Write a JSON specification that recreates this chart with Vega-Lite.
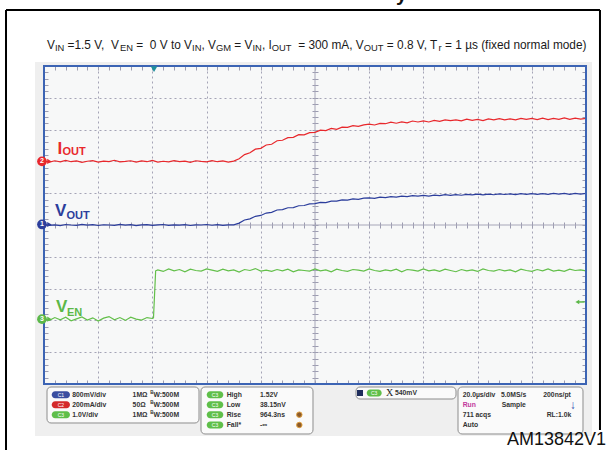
{
"$schema": "https://vega.github.io/schema/vega-lite/v6.json",
"width": 542, "height": 318,
"autosize": {"type": "none"},
"padding": {"left": 44, "top": 66, "right": 21, "bottom": 66},
"background": "white",
"config": {"view": {"stroke": null, "fill": "#f7f8f8"}, "font": "Liberation Sans"},
"datasets": {
"one": [{}],
"iout": [{"t":-40,"v":2},{"t":-38,"v":-5},{"t":-36,"v":4},{"t":-34,"v":-3},{"t":-32,"v":6},{"t":-30,"v":-2},{"t":-28,"v":3},{"t":-26,"v":-6},{"t":-24,"v":1},{"t":-22,"v":5},{"t":-20,"v":-4},{"t":-18,"v":2},{"t":-16,"v":-1},{"t":-14,"v":7},{"t":-12,"v":-3},{"t":-10,"v":0},{"t":-8,"v":4},{"t":-6,"v":-5},{"t":-4,"v":3},{"t":-2,"v":-2},{"t":0,"v":6},{"t":2,"v":-4},{"t":4,"v":1},{"t":6,"v":-3},{"t":8,"v":5},{"t":10,"v":-1},{"t":12,"v":2},{"t":14,"v":-6},{"t":16,"v":4},{"t":18,"v":0},{"t":20,"v":-3},{"t":22,"v":5},{"t":24,"v":-2},{"t":26,"v":3},{"t":28,"v":-4},{"t":30,"v":2},{"t":32,"v":17},{"t":34,"v":43},{"t":36,"v":54},{"t":38,"v":77},{"t":40,"v":82},{"t":42,"v":103},{"t":44,"v":108},{"t":46,"v":130},{"t":48,"v":133},{"t":50,"v":149},{"t":52,"v":151},{"t":54,"v":168},{"t":56,"v":167},{"t":58,"v":181},{"t":60,"v":183},{"t":62,"v":197},{"t":64,"v":194},{"t":66,"v":207},{"t":68,"v":202},{"t":70,"v":215},{"t":72,"v":214},{"t":74,"v":225},{"t":76,"v":220},{"t":78,"v":230},{"t":80,"v":235},{"t":82,"v":229},{"t":84,"v":239},{"t":86,"v":237},{"t":88,"v":247},{"t":90,"v":240},{"t":92,"v":249},{"t":94,"v":243},{"t":96,"v":254},{"t":98,"v":248},{"t":100,"v":255},{"t":102,"v":248},{"t":104,"v":258},{"t":106,"v":252},{"t":108,"v":261},{"t":110,"v":256},{"t":112,"v":261},{"t":114,"v":255},{"t":116,"v":266},{"t":118,"v":258},{"t":120,"v":264},{"t":122,"v":257},{"t":124,"v":267},{"t":126,"v":261},{"t":128,"v":269},{"t":130,"v":261},{"t":132,"v":268},{"t":134,"v":261},{"t":136,"v":270},{"t":138,"v":264},{"t":140,"v":270},{"t":142,"v":263},{"t":144,"v":272},{"t":146,"v":263},{"t":148,"v":270},{"t":150,"v":265},{"t":152,"v":274},{"t":154,"v":265},{"t":156,"v":272},{"t":158,"v":266},{"t":160,"v":271}],
"vout": [{"t":-40,"v":0.01},{"t":-38,"v":-0.01},{"t":-36,"v":0.005},{"t":-34,"v":-0.015},{"t":-32,"v":0.012},{"t":-30,"v":0},{"t":-28,"v":-0.008},{"t":-26,"v":0.015},{"t":-24,"v":-0.005},{"t":-22,"v":0.01},{"t":-20,"v":-0.012},{"t":-18,"v":0.006},{"t":-16,"v":0},{"t":-14,"v":-0.01},{"t":-12,"v":0.014},{"t":-10,"v":-0.004},{"t":-8,"v":0.008},{"t":-6,"v":-0.014},{"t":-4,"v":0.003},{"t":-2,"v":0.011},{"t":0,"v":-0.007},{"t":2,"v":0.002},{"t":4,"v":0.013},{"t":6,"v":-0.011},{"t":8,"v":0.005},{"t":10,"v":-0.002},{"t":12,"v":0.009},{"t":14,"v":-0.013},{"t":16,"v":0.004},{"t":18,"v":0},{"t":20,"v":0.012},{"t":22,"v":-0.006},{"t":24,"v":0.007},{"t":26,"v":-0.009},{"t":28,"v":0.003},{"t":30,"v":0.005},{"t":32,"v":0.048},{"t":34,"v":0.125},{"t":36,"v":0.155},{"t":38,"v":0.219},{"t":40,"v":0.24},{"t":42,"v":0.3},{"t":44,"v":0.319},{"t":46,"v":0.377},{"t":48,"v":0.389},{"t":50,"v":0.434},{"t":52,"v":0.439},{"t":54,"v":0.484},{"t":56,"v":0.49},{"t":58,"v":0.533},{"t":60,"v":0.536},{"t":62,"v":0.569},{"t":64,"v":0.565},{"t":66,"v":0.602},{"t":68,"v":0.599},{"t":70,"v":0.632},{"t":72,"v":0.627},{"t":74,"v":0.655},{"t":76,"v":0.645},{"t":78,"v":0.674},{"t":80,"v":0.681},{"t":82,"v":0.671},{"t":84,"v":0.701},{"t":86,"v":0.691},{"t":88,"v":0.716},{"t":90,"v":0.702},{"t":92,"v":0.727},{"t":94,"v":0.713},{"t":96,"v":0.739},{"t":98,"v":0.726},{"t":100,"v":0.745},{"t":102,"v":0.729},{"t":104,"v":0.752},{"t":106,"v":0.738},{"t":108,"v":0.762},{"t":110,"v":0.747},{"t":112,"v":0.766},{"t":114,"v":0.748},{"t":116,"v":0.77},{"t":118,"v":0.757},{"t":120,"v":0.776},{"t":122,"v":0.757},{"t":124,"v":0.777},{"t":126,"v":0.761},{"t":128,"v":0.784},{"t":130,"v":0.768},{"t":132,"v":0.784},{"t":134,"v":0.765},{"t":136,"v":0.787},{"t":138,"v":0.771},{"t":140,"v":0.79},{"t":142,"v":0.771},{"t":144,"v":0.791},{"t":146,"v":0.771},{"t":148,"v":0.794},{"t":150,"v":0.777},{"t":152,"v":0.793},{"t":154,"v":0.773},{"t":156,"v":0.794},{"t":158,"v":0.778},{"t":160,"v":0.794}],
"ven": [{"t":-40,"v":0.02},{"t":-38,"v":-0.04},{"t":-36,"v":0.05},{"t":-34,"v":-0.02},{"t":-32,"v":0.06},{"t":-30,"v":-0.05},{"t":-28,"v":0.01},{"t":-26,"v":0.07},{"t":-24,"v":-0.03},{"t":-22,"v":0.04},{"t":-20,"v":-0.06},{"t":-18,"v":0.03},{"t":-16,"v":0.08},{"t":-14,"v":-0.02},{"t":-12,"v":0.05},{"t":-10,"v":-0.04},{"t":-8,"v":0.06},{"t":-6,"v":0},{"t":-4,"v":-0.03},{"t":-2,"v":0.05},{"t":0,"v":0.02},{"t":0.4,"v":0.04},{"t":1.2,"v":1.52},{"t":2,"v":1.55},{"t":4,"v":1.5},{"t":6,"v":1.58},{"t":8,"v":1.52},{"t":10,"v":1.56},{"t":12,"v":1.49},{"t":14,"v":1.57},{"t":16,"v":1.53},{"t":18,"v":1.51},{"t":20,"v":1.58},{"t":22,"v":1.54},{"t":24,"v":1.5},{"t":26,"v":1.57},{"t":28,"v":1.52},{"t":30,"v":1.55},{"t":32,"v":1.48},{"t":34,"v":1.56},{"t":36,"v":1.53},{"t":38,"v":1.59},{"t":40,"v":1.51},{"t":42,"v":1.54},{"t":44,"v":1.5},{"t":46,"v":1.56},{"t":48,"v":1.52},{"t":50,"v":1.57},{"t":52,"v":1.49},{"t":54,"v":1.55},{"t":56,"v":1.53},{"t":58,"v":1.51},{"t":60,"v":1.58},{"t":62,"v":1.52},{"t":64,"v":1.55},{"t":66,"v":1.49},{"t":68,"v":1.57},{"t":70,"v":1.53},{"t":72,"v":1.5},{"t":74,"v":1.56},{"t":76,"v":1.54},{"t":78,"v":1.51},{"t":80,"v":1.58},{"t":82,"v":1.53},{"t":84,"v":1.5},{"t":86,"v":1.55},{"t":88,"v":1.52},{"t":90,"v":1.57},{"t":92,"v":1.49},{"t":94,"v":1.56},{"t":96,"v":1.54},{"t":98,"v":1.51},{"t":100,"v":1.58},{"t":102,"v":1.52},{"t":104,"v":1.55},{"t":106,"v":1.5},{"t":108,"v":1.57},{"t":110,"v":1.53},{"t":112,"v":1.49},{"t":114,"v":1.56},{"t":116,"v":1.52},{"t":118,"v":1.55},{"t":120,"v":1.5},{"t":122,"v":1.58},{"t":124,"v":1.53},{"t":126,"v":1.51},{"t":128,"v":1.56},{"t":130,"v":1.52},{"t":132,"v":1.55},{"t":134,"v":1.49},{"t":136,"v":1.57},{"t":138,"v":1.53},{"t":140,"v":1.5},{"t":142,"v":1.56},{"t":144,"v":1.52},{"t":146,"v":1.58},{"t":148,"v":1.51},{"t":150,"v":1.54},{"t":152,"v":1.5},{"t":154,"v":1.57},{"t":156,"v":1.53},{"t":158,"v":1.55},{"t":160,"v":1.52}]
},
"layer": [
{"data": {"values": [{"x":-43.32,"x2":-40,"y":10.126,"y2":-1.635},{"x":160,"x2":162.2,"y":10.126,"y2":-1.635},{"x":-43.32,"x2":162.2,"y":10.126,"y2":10},{"x":-43.32,"x2":162.2,"y":0,"y2":-1.635}]},
 "mark": {"type": "rect", "color": "#efefef"},
 "encoding": {"x": {"field": "x", "type": "quantitative", "scale": {"domain": [-40,160], "nice": false, "zero": false}, "axis": null}, "x2": {"field": "x2"},
  "y": {"field": "y", "type": "quantitative", "scale": {"domain": [0,10], "nice": false, "zero": false}, "axis": null}, "y2": {"field": "y2"}}},
{"data": {"name": "one"},
 "mark": {"type": "rule", "color": "#a6a6b8", "strokeWidth": 1},
 "encoding": {
  "x": {"datum": 60, "type": "quantitative", "scale": {"domain": [-40,160], "nice": false, "zero": false}, "axis": {"orient": "bottom", "grid": true, "gridDash": [2,3], "gridColor": "#a4a4b6", "gridWidth": 1, "values": [-20,0,20,40,80,100,120,140], "labels": false, "ticks": false, "domain": false, "title": null, "zindex": 0}},
  "y": {"datum": 0, "type": "quantitative", "scale": {"domain": [0,10], "nice": false, "zero": false}, "axis": {"orient": "left", "grid": true, "gridDash": [2,3], "gridColor": "#a4a4b6", "gridWidth": 1, "values": [1,2,3,4,6,7,8,9], "labels": false, "ticks": false, "domain": false, "title": null, "zindex": 0}},
  "y2": {"datum": 10}}},
{"data": {"name": "one"},
 "mark": {"type": "rule", "color": "#a6a6b8", "strokeWidth": 1},
 "encoding": {
  "x": {"datum": -40, "type": "quantitative", "scale": {"domain": [-40,160], "nice": false, "zero": false}, "axis": {"orient": "bottom", "offset": -162, "values": [-40,-36,-32,-28,-24,-20,-16,-12,-8,-4,0,4,8,12,16,20,24,28,32,36,40,44,48,52,56,60,64,68,72,76,80,84,88,92,96,100,104,108,112,116,120,124,128,132,136,140,144,148,152,156,160], "ticks": true, "tickSize": 6, "tickColor": "#9c9cb0", "tickWidth": 1, "labels": false, "domain": false, "grid": false, "title": null, "zindex": 0}},
  "x2": {"datum": 160},
  "y": {"datum": 5, "type": "quantitative", "scale": {"domain": [0,10], "nice": false, "zero": false}, "axis": {"orient": "left", "offset": -274, "values": [0,0.2,0.4,0.6,0.8,1,1.2,1.4,1.6,1.8,2,2.2,2.4,2.6,2.8,3,3.2,3.4,3.6,3.8,4,4.2,4.4,4.6,4.8,5,5.2,5.4,5.6,5.8,6,6.2,6.4,6.6,6.8,7,7.2,7.4,7.6,7.8,8,8.2,8.4,8.6,8.8,9,9.2,9.4,9.6,9.8,10], "ticks": true, "tickSize": 6, "tickColor": "#9c9cb0", "tickWidth": 1, "labels": false, "domain": false, "grid": false, "title": null, "zindex": 0}}}},
{"data": {"name": "iout"},
 "mark": {"type": "line", "color": "#e8282c", "strokeWidth": 1.2},
 "encoding": {"x": {"field": "t", "type": "quantitative", "scale": {"domain": [-40,160], "nice": false, "zero": false}, "axis": null},
  "y": {"field": "v", "type": "quantitative", "scale": {"domain": [-1400,600], "nice": false, "zero": false}, "axis": null}}},
{"data": {"name": "vout"},
 "mark": {"type": "line", "color": "#2c3e9c", "strokeWidth": 1.2},
 "encoding": {"x": {"field": "t", "type": "quantitative", "scale": {"domain": [-40,160], "nice": false, "zero": false}, "axis": null},
  "y": {"field": "v", "type": "quantitative", "scale": {"domain": [-4,4], "nice": false, "zero": false}, "axis": null}}},
{"data": {"name": "ven"},
 "mark": {"type": "line", "color": "#63bf4a", "strokeWidth": 1.2},
 "encoding": {"x": {"field": "t", "type": "quantitative", "scale": {"domain": [-40,160], "nice": false, "zero": false}, "axis": null},
  "y": {"field": "v", "type": "quantitative", "scale": {"domain": [-2.04,7.96], "nice": false, "zero": false}, "axis": null}}},
{"data": {"name": "one"},
 "mark": {"type": "rect", "filled": false, "color": "#3c64b4", "stroke": "#3c64b4", "strokeWidth": 2},
 "encoding": {
  "x": {"datum": -40, "type": "quantitative", "scale": {"domain": [-40,160], "nice": false, "zero": false}, "axis": {"orient": "top", "offset": -4, "values": [-40,-36,-32,-28,-24,-20,-16,-12,-8,-4,0,4,8,12,16,20,24,28,32,36,40,44,48,52,56,60,64,68,72,76,80,84,88,92,96,100,104,108,112,116,120,124,128,132,136,140,144,148,152,156,160], "ticks": true, "tickSize": 4, "tickColor": "#9c9cb0", "tickWidth": 1, "labels": false, "domain": false, "grid": false, "title": null, "zindex": 0}},
  "x2": {"datum": 160},
  "y": {"datum": 0, "type": "quantitative", "scale": {"domain": [0,10], "nice": false, "zero": false}, "axis": {"orient": "left", "offset": -4, "values": [0,0.2,0.4,0.6,0.8,1,1.2,1.4,1.6,1.8,2,2.2,2.4,2.6,2.8,3,3.2,3.4,3.6,3.8,4,4.2,4.4,4.6,4.8,5,5.2,5.4,5.6,5.8,6,6.2,6.4,6.6,6.8,7,7.2,7.4,7.6,7.8,8,8.2,8.4,8.6,8.8,9,9.2,9.4,9.6,9.8,10], "ticks": true, "tickSize": 4, "tickColor": "#9c9cb0", "tickWidth": 1, "labels": false, "domain": false, "grid": false, "title": null, "zindex": 0}},
  "y2": {"datum": 10}}},
{"data": {"name": "one"},
 "mark": {"type": "point", "shape": "triangle-down", "filled": true, "color": "#1f8f9c", "size": 45, "opacity": 1},
 "encoding": {
  "x": {"datum": 0.6, "type": "quantitative", "scale": {"domain": [-40,160], "nice": false, "zero": false}, "axis": {"orient": "bottom", "offset": -4, "values": [-40,-36,-32,-28,-24,-20,-16,-12,-8,-4,0,4,8,12,16,20,24,28,32,36,40,44,48,52,56,60,64,68,72,76,80,84,88,92,96,100,104,108,112,116,120,124,128,132,136,140,144,148,152,156,160], "ticks": true, "tickSize": 4, "tickColor": "#9c9cb0", "tickWidth": 1, "labels": false, "domain": false, "grid": false, "title": null, "zindex": 0}},
  "y": {"datum": 9.9, "type": "quantitative", "scale": {"domain": [0,10], "nice": false, "zero": false}, "axis": {"orient": "right", "offset": -4, "values": [0,0.2,0.4,0.6,0.8,1,1.2,1.4,1.6,1.8,2,2.2,2.4,2.6,2.8,3,3.2,3.4,3.6,3.8,4,4.2,4.4,4.6,4.8,5,5.2,5.4,5.6,5.8,6,6.2,6.4,6.6,6.8,7,7.2,7.4,7.6,7.8,8,8.2,8.4,8.6,8.8,9,9.2,9.4,9.6,9.8,10], "ticks": true, "tickSize": 4, "tickColor": "#9c9cb0", "tickWidth": 1, "labels": false, "domain": false, "grid": false, "title": null, "zindex": 0}}}},
{"data": {"name": "one"},
 "mark": {"type": "rule", "color": "#5cb848", "strokeWidth": 1.5},
 "encoding": {"x": {"datum": 157, "type": "quantitative", "scale": {"domain": [-40,160], "nice": false, "zero": false}, "axis": null}, "x2": {"datum": 159.5},
  "y": {"datum": 2.58, "type": "quantitative", "scale": {"domain": [0,10], "nice": false, "zero": false}, "axis": null}}},
{"data": {"name": "one"},
 "mark": {"type": "point", "shape": "triangle-left", "filled": true, "color": "#5cb848", "size": 20, "opacity": 1},
 "encoding": {"x": {"datum": 156.8, "type": "quantitative", "scale": {"domain": [-40,160], "nice": false, "zero": false}, "axis": null},
  "y": {"datum": 2.58, "type": "quantitative", "scale": {"domain": [0,10], "nice": false, "zero": false}, "axis": null}}},
{"data": {"values": [{"ch":"1","y":5.016},{"ch":"2","y":7.0},{"ch":"3","y":2.04}]},
 "mark": {"type": "point", "shape": "triangle-right", "filled": true, "size": 26, "opacity": 1},
 "encoding": {"x": {"datum": -38.0, "type": "quantitative", "scale": {"domain": [-40,160], "nice": false, "zero": false}, "axis": null},
  "y": {"field": "y", "type": "quantitative", "scale": {"domain": [0,10], "nice": false, "zero": false}, "axis": null},
  "color": {"field": "ch", "type": "nominal", "scale": {"domain": ["1","2","3"], "range": ["#2c3e9c","#e8282c","#5cb848"]}, "legend": null}}},
{"data": {"values": [{"ch":"1","y":5.016},{"ch":"2","y":7.0},{"ch":"3","y":2.04}]},
 "mark": {"type": "point", "shape": "circle", "filled": true, "size": 95, "opacity": 1},
 "encoding": {"x": {"datum": -40.74, "type": "quantitative", "scale": {"domain": [-40,160], "nice": false, "zero": false}, "axis": null},
  "y": {"field": "y", "type": "quantitative", "scale": {"domain": [0,10], "nice": false, "zero": false}, "axis": null},
  "color": {"field": "ch", "type": "nominal", "scale": {"domain": ["1","2","3"], "range": ["#2c3e9c","#e8282c","#5cb848"]}, "legend": null}}},
{"data": {"values": [{"ch":"1","y":5.016},{"ch":"2","y":7.0},{"ch":"3","y":2.04}]},
 "mark": {"type": "text", "color": "white", "fontSize": 7, "fontWeight": "bold", "align": "center", "baseline": "middle"},
 "encoding": {"x": {"datum": -40.74, "type": "quantitative", "scale": {"domain": [-40,160], "nice": false, "zero": false}, "axis": null},
  "y": {"field": "y", "type": "quantitative", "scale": {"domain": [0,10], "nice": false, "zero": false}, "axis": null},
  "text": {"field": "ch"}}},
{"data": {"values": [{"x":-35.02,"y":7.248,"text":"I","ch":"2"},{"x":-35.94,"y":5.283,"text":"V","ch":"1"},{"x":-35.57,"y":2.264,"text":"V","ch":"3"}]},
 "mark": {"type": "text", "fontSize": 17, "fontWeight": "bold", "align": "left", "baseline": "alphabetic"},
 "encoding": {"x": {"field": "x", "type": "quantitative", "scale": {"domain": [-40,160], "nice": false, "zero": false}, "axis": null},
  "y": {"field": "y", "type": "quantitative", "scale": {"domain": [0,10], "nice": false, "zero": false}, "axis": null},
  "text": {"field": "text"},
  "color": {"field": "ch", "type": "nominal", "scale": {"domain": ["1","2","3"], "range": ["#2c3e9c","#e8282c","#5cb848"]}, "legend": null}}},
{"data": {"values": [{"x":-33.17,"y":7.2,"text":"OUT","ch":"2"},{"x":-31.7,"y":5.189,"text":"OUT","ch":"1"},{"x":-31.51,"y":2.154,"text":"EN","ch":"3"}]},
 "mark": {"type": "text", "fontSize": 11, "fontWeight": "bold", "align": "left", "baseline": "alphabetic"},
 "encoding": {"x": {"field": "x", "type": "quantitative", "scale": {"domain": [-40,160], "nice": false, "zero": false}, "axis": null},
  "y": {"field": "y", "type": "quantitative", "scale": {"domain": [0,10], "nice": false, "zero": false}, "axis": null},
  "text": {"field": "text"},
  "color": {"field": "ch", "type": "nominal", "scale": {"domain": ["1","2","3"], "range": ["#2c3e9c","#e8282c","#5cb848"]}, "legend": null}}},
{"data": {"values": [{"x":-38.89,"text":"V"},{"x":-31.3,"text":"=1.5 V,\u00a0\u00a0V"},{"x":-5.93,"text":"=\u00a0\u00a00 V to V"},{"x":18.09,"text":", V"},{"x":30.24,"text":"= V"},{"x":40.4,"text":", I"},{"x":53.79,"text":"= 300 mA, V"},{"x":86.52,"text":"= 0.8 V, T"},{"x":107.99,"text":"= 1 µs (fixed normal mode)"}]},
 "mark": {"type": "text", "fontSize": 11.85, "color": "#1a1a1a", "align": "left", "baseline": "alphabetic"},
 "encoding": {"x": {"field": "x", "type": "quantitative", "scale": {"domain": [-40,160], "nice": false, "zero": false}, "axis": null},
  "y": {"datum": 10.55, "type": "quantitative", "scale": {"domain": [0,10], "nice": false, "zero": false}, "axis": null},
  "text": {"field": "text"}}},
{"data": {"values": [{"x":-35.98,"text":"IN"},{"x":-11.96,"text":"EN"},{"x":14.63,"text":"IN"},{"x":23.44,"text":"GM"},{"x":36.93,"text":"IN"},{"x":44.04,"text":"OUT"},{"x":77.99,"text":"OUT"},{"x":105.61,"text":"r"}]},
 "mark": {"type": "text", "fontSize": 9.4, "color": "#1a1a1a", "align": "left", "baseline": "alphabetic"},
 "encoding": {"x": {"field": "x", "type": "quantitative", "scale": {"domain": [-40,160], "nice": false, "zero": false}, "axis": null},
  "y": {"datum": 10.456, "type": "quantitative", "scale": {"domain": [0,10], "nice": false, "zero": false}, "axis": null},
  "text": {"field": "text"}}},
{"data": {"values": [{"x":-38.89,"x2":17.2,"y":-0.094,"y2":-1.226},{"x":17.93,"x2":59.26,"y":-0.094,"y2":-1.572},{"x":75.13,"x2":112.03,"y":-0.094,"y2":-0.472},{"x":112.77,"x2":158.89,"y":-0.094,"y2":-1.572}]},
 "mark": {"type": "rect", "fill": "#fafafa", "stroke": "#8c8c8c", "strokeWidth": 1, "cornerRadius": 4},
 "encoding": {"x": {"field": "x", "type": "quantitative", "scale": {"domain": [-40,160], "nice": false, "zero": false}, "axis": null}, "x2": {"field": "x2"},
  "y": {"field": "y", "type": "quantitative", "scale": {"domain": [0,10], "nice": false, "zero": false}, "axis": null}, "y2": {"field": "y2"}}},
{"data": {"values": [
  {"x":-37.16,"x2":-30.41,"y":-0.2265,"y2":-0.4465,"ch":"1"},{"x":-37.16,"x2":-30.41,"y":-0.541,"y2":-0.761,"ch":"2"},{"x":-37.16,"x2":-30.41,"y":-0.855,"y2":-1.075,"ch":"3"},
  {"x":20.04,"x2":26.17,"y":-0.2265,"y2":-0.4465,"ch":"3"},{"x":20.04,"x2":26.17,"y":-0.541,"y2":-0.761,"ch":"3"},{"x":20.04,"x2":26.17,"y":-0.855,"y2":-1.075,"ch":"3"},{"x":20.04,"x2":26.17,"y":-1.179,"y2":-1.399,"ch":"3"},
  {"x":79.08,"x2":84.62,"y":-0.173,"y2":-0.393,"ch":"3"}]},
 "mark": {"type": "rect", "cornerRadius": 3.5},
 "encoding": {"x": {"field": "x", "type": "quantitative", "scale": {"domain": [-40,160], "nice": false, "zero": false}, "axis": null}, "x2": {"field": "x2"},
  "y": {"field": "y", "type": "quantitative", "scale": {"domain": [0,10], "nice": false, "zero": false}, "axis": null}, "y2": {"field": "y2"},
  "color": {"field": "ch", "type": "nominal", "scale": {"domain": ["1","2","3"], "range": ["#3b4ea0","#d42a2a","#5fbf4a"]}, "legend": null}}},
{"data": {"values": [
  {"x":-33.79,"y":-0.3365,"text":"C1"},{"x":-33.79,"y":-0.651,"text":"C2"},{"x":-33.79,"y":-0.965,"text":"C3"},
  {"x":23.1,"y":-0.3365,"text":"C3"},{"x":23.1,"y":-0.651,"text":"C3"},{"x":23.1,"y":-0.965,"text":"C3"},{"x":23.1,"y":-1.289,"text":"C3"},
  {"x":81.85,"y":-0.283,"text":"C3"}]},
 "mark": {"type": "text", "fontSize": 5, "color": "white", "align": "center", "baseline": "middle"},
 "encoding": {"x": {"field": "x", "type": "quantitative", "scale": {"domain": [-40,160], "nice": false, "zero": false}, "axis": null},
  "y": {"field": "y", "type": "quantitative", "scale": {"domain": [0,10], "nice": false, "zero": false}, "axis": null},
  "text": {"field": "text"}}},
{"data": {"values": [
  {"x":-29.56,"y":-0.3365,"text":"800mV/div"},{"x":-7.3,"y":-0.3365,"text":"1MΩ"},{"x":0.4,"y":-0.3365,"text":"W:500M"},
  {"x":-29.56,"y":-0.651,"text":"200mA/div"},{"x":-7.3,"y":-0.651,"text":"50Ω"},{"x":0.4,"y":-0.651,"text":"W:500M"},
  {"x":-29.56,"y":-0.965,"text":"1.0V/div"},{"x":-7.3,"y":-0.965,"text":"1MΩ"},{"x":0.4,"y":-0.965,"text":"W:500M"},
  {"x":27.42,"y":-0.3365,"text":"High"},{"x":39.7,"y":-0.3365,"text":"1.52V"},
  {"x":27.42,"y":-0.651,"text":"Low"},{"x":39.7,"y":-0.651,"text":"38.15nV"},
  {"x":27.42,"y":-0.965,"text":"Rise"},{"x":39.7,"y":-0.965,"text":"964.3ns"},
  {"x":27.42,"y":-1.289,"text":"Fall*"},{"x":39.7,"y":-1.289,"text":"-∞"},
  {"x":89.52,"y":-0.283,"text":"540mV"},
  {"x":114.5,"y":-0.3365,"text":"20.0µs/div"},{"x":128.6,"y":-0.3365,"text":"5.0MS/s"},{"x":144.24,"y":-0.3365,"text":"200ns/pt"},
  {"x":128.89,"y":-0.651,"text":"Sample"},
  {"x":114.5,"y":-0.965,"text":"711 acqs"},{"x":145.5,"y":-0.965,"text":"RL:1.0k"},
  {"x":114.5,"y":-1.289,"text":"Auto"}]},
 "mark": {"type": "text", "fontSize": 6.8, "fontWeight": "bold", "color": "#333333", "align": "left", "baseline": "middle"},
 "encoding": {"x": {"field": "x", "type": "quantitative", "scale": {"domain": [-40,160], "nice": false, "zero": false}, "axis": null},
  "y": {"field": "y", "type": "quantitative", "scale": {"domain": [0,10], "nice": false, "zero": false}, "axis": null},
  "text": {"field": "text"}}},
{"data": {"values": [{"y":-0.29},{"y":-0.604},{"y":-0.918}]},
 "mark": {"type": "text", "fontSize": 4.5, "fontWeight": "bold", "color": "#333333", "align": "left", "baseline": "middle", "text": "B"},
 "encoding": {"x": {"datum": -0.8, "type": "quantitative", "scale": {"domain": [-40,160], "nice": false, "zero": false}, "axis": null},
  "y": {"field": "y", "type": "quantitative", "scale": {"domain": [0,10], "nice": false, "zero": false}, "axis": null}}},
{"data": {"name": "one"},
 "mark": {"type": "text", "fontSize": 6.8, "fontWeight": "bold", "color": "#c2389c", "align": "left", "baseline": "middle", "text": "Run"},
 "encoding": {"x": {"datum": 114.5, "type": "quantitative", "scale": {"domain": [-40,160], "nice": false, "zero": false}, "axis": null},
  "y": {"datum": -0.651, "type": "quantitative", "scale": {"domain": [0,10], "nice": false, "zero": false}, "axis": null}}},
{"data": {"name": "one"},
 "mark": {"type": "text", "fontSize": 12, "fontWeight": "bold", "color": "#2f4fb0", "align": "center", "baseline": "middle", "text": "↓"},
 "encoding": {"x": {"datum": 155.09, "type": "quantitative", "scale": {"domain": [-40,160], "nice": false, "zero": false}, "axis": null},
  "y": {"datum": -0.651, "type": "quantitative", "scale": {"domain": [0,10], "nice": false, "zero": false}, "axis": null}}},
{"data": {"name": "one"},
 "mark": {"type": "text", "fontSize": 10, "font": "Liberation Serif", "color": "#222222", "align": "left", "baseline": "middle", "text": "X"},
 "encoding": {"x": {"datum": 86.2, "type": "quantitative", "scale": {"domain": [-40,160], "nice": false, "zero": false}, "axis": null},
  "y": {"datum": -0.283, "type": "quantitative", "scale": {"domain": [0,10], "nice": false, "zero": false}, "axis": null}}},
{"data": {"name": "one"},
 "mark": {"type": "point", "shape": "square", "filled": true, "color": "#1e2d5c", "size": 36, "opacity": 1},
 "encoding": {"x": {"datum": 76.6, "type": "quantitative", "scale": {"domain": [-40,160], "nice": false, "zero": false}, "axis": null},
  "y": {"datum": -0.283, "type": "quantitative", "scale": {"domain": [0,10], "nice": false, "zero": false}, "axis": null}}},
{"data": {"values": [{"y": -0.965}, {"y": -1.289}]},
 "mark": {"type": "point", "shape": "circle", "filled": true, "color": "#8b5a2b", "stroke": "#e0a040", "strokeWidth": 1, "size": 30, "opacity": 1},
 "encoding": {"x": {"datum": 54.21, "type": "quantitative", "scale": {"domain": [-40,160], "nice": false, "zero": false}, "axis": null},
  "y": {"field": "y", "type": "quantitative", "scale": {"domain": [0,10], "nice": false, "zero": false}, "axis": null}}},
{"data": {"name": "one"},
 "mark": {"type": "rule", "color": "#000000", "strokeWidth": 2},
 "encoding": {"x": {"datum": -54.02, "type": "quantitative", "scale": {"domain": [-40,160], "nice": false, "zero": false}, "axis": null}, "x2": {"datum": 165.16},
  "y": {"datum": 11.761, "type": "quantitative", "scale": {"domain": [0,10], "nice": false, "zero": false}, "axis": null}}},
{"data": {"name": "one"},
 "mark": {"type": "rule", "color": "#000000", "strokeWidth": 2},
 "encoding": {"x": {"datum": -54.02, "type": "quantitative", "scale": {"domain": [-40,160], "nice": false, "zero": false}, "axis": null},
  "y": {"datum": 11.761, "type": "quantitative", "scale": {"domain": [0,10], "nice": false, "zero": false}, "axis": null}, "y2": {"datum": -2.2}}},
{"data": {"name": "one"},
 "mark": {"type": "rule", "color": "#000000", "strokeWidth": 2},
 "encoding": {"x": {"datum": 165.16, "type": "quantitative", "scale": {"domain": [-40,160], "nice": false, "zero": false}, "axis": null},
  "y": {"datum": 11.761, "type": "quantitative", "scale": {"domain": [0,10], "nice": false, "zero": false}, "axis": null}, "y2": {"datum": -1.45}}},
{"data": {"name": "one"},
 "mark": {"type": "text", "fontSize": 18, "color": "#111111", "align": "right", "baseline": "alphabetic", "text": "AM13842V1"},
 "encoding": {"x": {"datum": 167.4, "type": "quantitative", "scale": {"domain": [-40,160], "nice": false, "zero": false}, "axis": null},
  "y": {"datum": -1.93, "type": "quantitative", "scale": {"domain": [0,10], "nice": false, "zero": false}, "axis": null}}},
{"data": {"name": "one"},
 "mark": {"type": "text", "fontSize": 20, "fontWeight": "bold", "color": "#111111", "align": "left", "baseline": "alphabetic", "text": "y"},
 "encoding": {"x": {"datum": 89.89, "type": "quantitative", "scale": {"domain": [-40,160], "nice": false, "zero": false}, "axis": null},
  "y": {"datum": 12.044, "type": "quantitative", "scale": {"domain": [0,10], "nice": false, "zero": false}, "axis": null}}}
],
"resolve": {"scale": {"x": "independent", "y": "independent", "color": "independent"}, "axis": {"x": "independent", "y": "independent"}}
}
